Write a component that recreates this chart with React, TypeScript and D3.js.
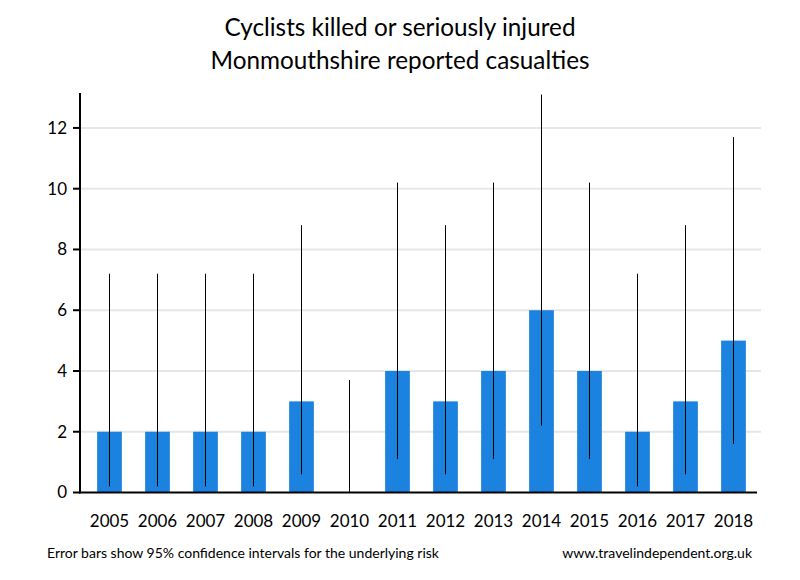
import React from "react";
import * as d3 from "d3";

const years = ["2005","2006","2007","2008","2009","2010","2011","2012","2013","2014","2015","2016","2017","2018"];
const casualties = [2,2,2,2,3,0,4,3,4,6,4,2,3,5];
const lowerCI = [0.2,0.2,0.2,0.2,0.6,0,1.1,0.6,1.1,2.2,1.1,0.2,0.6,1.6];
const upperCI = [7.2,7.2,7.2,7.2,8.8,3.7,10.2,8.8,10.2,13.1,10.2,7.2,8.8,11.7];
const yTicks = [0,2,4,6,8,10,12];
const titleLines = ["Cyclists killed or seriously injured","Monmouthshire reported casualties"];
const footLeft = "Error bars show 95% confidence intervals for the underlying risk";
const footRight = "www.travelindependent.org.uk";

const W = 800, H = 580;
const FONT = "Lato, 'Open Sans', sans-serif";

export default function App() {
  const x = d3.scaleBand<string>().domain(years).range([85.5, 757.5]).paddingInner(0.485).paddingOuter(0.2425);
  const y = d3.scaleLinear().domain([0, 13.15]).range([492.5, 93]);
  const axisX0 = 80, axisX1 = 757, gridX1 = 761;
  return (
    <svg width={W} height={H} style={{ position: "absolute", left: 0, top: 0, background: "#fff" }} fontFamily={FONT}>
      <rect width={W} height={H} fill="#fff" />
      {titleLines.map((t, i) => (
        <text key={t} x={400} y={36 + i * 33} textAnchor="middle" fontSize={24.3} fill="#000">{t}</text>
      ))}
      {yTicks.filter(v => v > 0).map(v => (
        <line key={"g" + v} x1={axisX0} x2={gridX1} y1={y(v)} y2={y(v)} stroke="#e6e6e6" strokeWidth={2} />
      ))}
      {years.map((yr, i) => (
        <rect key={"b" + yr} x={x(yr)} width={x.bandwidth()} y={y(casualties[i])} height={y(0) - y(casualties[i])} fill="#1c82e0" />
      ))}
      {years.map((yr, i) => {
        const cx = (x(yr) as number) + x.bandwidth() / 2;
        return <line key={"e" + yr} x1={cx} x2={cx} y1={y(lowerCI[i])} y2={y(upperCI[i])} stroke="#000" strokeWidth={1} />;
      })}
      <line x1={axisX0} x2={axisX0} y1={93} y2={y(0) + 1} stroke="#000" strokeWidth={2} />
      <line x1={axisX0 - 1} x2={axisX1} y1={y(0)} y2={y(0)} stroke="#000" strokeWidth={2} />
      {yTicks.map(v => (
        <g key={"t" + v}>
          <line x1={73} x2={axisX0} y1={y(v)} y2={y(v)} stroke="#000" strokeWidth={2} />
          <text x={67} y={y(v)} dy="0.35em" textAnchor="end" fontSize={17} fill="#000">{v}</text>
        </g>
      ))}
      {years.map(yr => (
        <text key={"x" + yr} x={(x(yr) as number) + x.bandwidth() / 2} y={527} textAnchor="middle" fontSize={17} fill="#000">{yr}</text>
      ))}
      <text x={47} y={558} fontSize={14} fill="#000">{footLeft}</text>
      <text x={752} y={558} textAnchor="end" fontSize={14} fill="#000">{footRight}</text>
    </svg>
  );
}
